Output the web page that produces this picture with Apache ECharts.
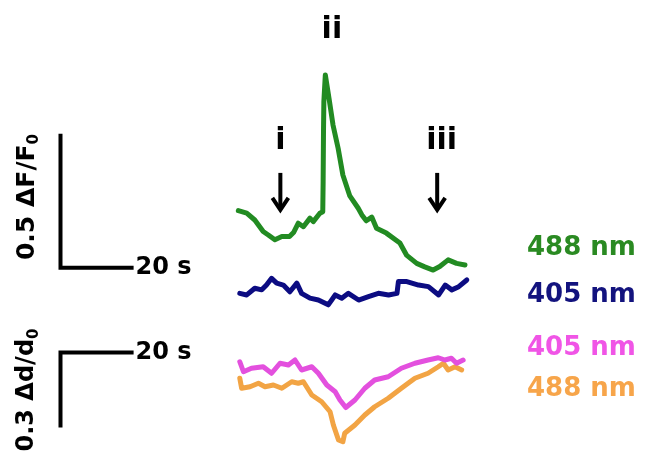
<!DOCTYPE html>
<html>
<head>
<meta charset="utf-8">
<script src="https://cdn.jsdelivr.net/npm/echarts@6/dist/echarts.min.js"></script>
<style>
  html, body { margin: 0; padding: 0; background: #fff; }
  #chart { width: 647px; height: 455px; }
</style>
</head>
<body>
<div id="chart"></div>
<script>
// ---- Fluorescence traces (ΔF/F0), time in seconds ----
const greenT = [0.2,2.5,4.7,7.0,8.4,10.2,12.1,14.2,15.3,16.6,18.0,19.8,20.7,22.5,23.3,23.4,23.5,23.6,24.0,25.0,26.1,27.5,28.8,30.7,33.0,34.0,35.2,36.7,38.0,40.7,44.4,46.2,49.0,51.2,53.5,55.3,57.6,59.9,62.2];
const greenV = [0.213,0.204,0.178,0.135,0.122,0.104,0.116,0.116,0.131,0.166,0.153,0.185,0.172,0.203,0.209,0.321,0.508,0.620,0.720,0.633,0.533,0.446,0.346,0.268,0.222,0.197,0.175,0.189,0.147,0.129,0.092,0.047,0.016,0.003,-0.009,0.004,0.029,0.016,0.010];

const blueT = [0.6,2.5,4.7,6.6,7.9,9.3,10.7,12.5,14.3,16.2,17.5,19.8,22.1,24.8,26.7,28.5,30.3,33.1,35.8,38.5,41.3,43.6,44.0,46.3,49.5,52.2,55.0,56.8,58.6,60.5,62.7];
const blueV = [0.004,-0.002,0.023,0.017,0.035,0.060,0.042,0.035,0.010,0.042,0.004,-0.014,-0.021,-0.039,-0.002,-0.014,0.004,-0.021,-0.008,0.004,-0.002,0.004,0.048,0.048,0.035,0.029,-0.002,0.035,0.017,0.029,0.054];

// ---- Ratio traces (Δd/d0) ----
const pinkT = [0.6,1.6,3.8,7.0,9.3,11.6,13.9,15.7,17.5,20.3,22.1,24.4,26.7,28.0,29.6,32.1,34.8,37.5,41.2,44.8,48.5,52.1,54.9,56.7,58.5,59.9,61.7];
const pinkV = [0.023,-0.017,-0.003,0.003,-0.023,0.017,0.010,0.030,-0.010,0.003,-0.023,-0.070,-0.097,-0.130,-0.160,-0.130,-0.083,-0.050,-0.037,-0.003,0.017,0.030,0.039,0.030,0.037,0.017,0.030];

const orangeT = [0.6,1.1,3.4,5.7,7.5,9.8,12.1,14.8,16.6,18.0,20.3,23.0,25.3,26.2,27.6,28.8,29.3,32.1,34.8,37.5,41.2,44.8,48.5,52.1,54.9,56.3,57.6,59.5,61.3];
const orangeV = [0.027,-0.013,-0.007,0.007,-0.007,0.000,-0.013,0.013,0.007,0.013,-0.040,-0.067,-0.107,-0.160,-0.220,-0.227,-0.193,-0.160,-0.120,-0.087,-0.053,-0.013,0.027,0.047,0.073,0.087,0.060,0.073,0.060];

// vertical stacking offsets for each trace
const GREEN_OFFSET = 0;
const BLUE_OFFSET = -0.1;
const PINK_OFFSET = -0.06;
const ORANGE_OFFSET = -0.13;

// scale bars
const scaleX0 = -48.45;
const scaleTime = 20;      // s
const scaleDF = 0.5;       // ΔF/F0
const scaleDd = 0.3;       // Δd/d0

// time points i, ii, iii and their label heights
const markNames = ['i', 'ii', 'iii'];
const markT = [11.7, 25.8, 55.8];
const markY = [0.473, 0.888, 0.473];
// arrows under i and iii
const arrowT = [11.7, 54.6];
const arrowSpan = [0.354, 0.216];

const FONT = 'DejaVu Sans';

function pairs(ts, vs, off) { return ts.map((t, i) => [t, +(vs[i] + off).toFixed(4)]); }

const chart = echarts.init(document.getElementById('chart'), null, { renderer: 'canvas' });

const traceStyle = (c) => ({ color: c, width: 5, join: 'round', cap: 'round' });
const barStyle = { color: '#000', width: 4, join: 'miter', cap: 'butt' };
const secLabel = { show: true, position: 'right', distance: 2, formatter: scaleTime + ' s',
                   color: '#000', fontFamily: FONT, fontWeight: 'bold', fontSize: 24 };

chart.setOption({
  animation: false,
  backgroundColor: '#ffffff',
  grid: [
    { left: 0, right: 0, top: 0, bottom: 0 },
    { left: 0, right: 0, top: 0, bottom: 0 }
  ],
  xAxis: [
    { type: 'value', gridIndex: 0, min: -65, max: 112, show: false },
    { type: 'value', gridIndex: 1, min: -65, max: 112, show: false }
  ],
  yAxis: [
    { type: 'value', gridIndex: 0, min: -0.7, max: 1.0, show: false },
    { type: 'value', gridIndex: 1, min: -0.41, max: 1.41, show: false }
  ],
  series: [
    { type: 'line', xAxisIndex: 0, yAxisIndex: 0, symbol: 'none', silent: true,
      data: pairs(greenT, greenV, GREEN_OFFSET), lineStyle: traceStyle('#228B22') },
    { type: 'line', xAxisIndex: 0, yAxisIndex: 0, symbol: 'none', silent: true,
      data: pairs(blueT, blueV, BLUE_OFFSET), lineStyle: traceStyle('#0C0C82') },
    { type: 'line', xAxisIndex: 1, yAxisIndex: 1, symbol: 'none', silent: true,
      data: pairs(orangeT, orangeV, ORANGE_OFFSET), lineStyle: traceStyle('#F2A444') },
    { type: 'line', xAxisIndex: 1, yAxisIndex: 1, symbol: 'none', silent: true,
      data: pairs(pinkT, pinkV, PINK_OFFSET), lineStyle: traceStyle('#E350DE') },

    // scale bar, fluorescence panel
    { type: 'line', xAxisIndex: 0, yAxisIndex: 0, symbol: 'none', silent: true, lineStyle: barStyle,
      data: [[scaleX0, scaleDF], [scaleX0, 0], [scaleX0 + scaleTime, 0]] },
    // scale bar, ratio panel
    { type: 'line', xAxisIndex: 1, yAxisIndex: 1, symbol: 'none', silent: true, lineStyle: barStyle,
      data: [[scaleX0 + scaleTime, 0], [scaleX0, 0], [scaleX0, -scaleDd]] },
    // "20 s" captions at the end of each time bar
    { type: 'scatter', xAxisIndex: 0, yAxisIndex: 0, symbolSize: 0, silent: true,
      itemStyle: { opacity: 1 }, label: secLabel, data: [[scaleX0 + scaleTime, 0]] },
    { type: 'scatter', xAxisIndex: 1, yAxisIndex: 1, symbolSize: 0, silent: true,
      itemStyle: { opacity: 1 }, label: secLabel, data: [[scaleX0 + scaleTime, 0]] },

    // arrows at time points i and iii
    { type: 'custom', xAxisIndex: 0, yAxisIndex: 0, silent: true,
      data: arrowT.map(t => [t, arrowSpan[0], arrowSpan[1]]),
      renderItem: function (params, api) {
        const a = api.coord([api.value(0), api.value(1)]);
        const b = api.coord([api.value(0), api.value(2)]);
        const st = { stroke: '#000', lineWidth: 4, fill: null };
        return {
          type: 'group',
          children: [
            { type: 'line', shape: { x1: a[0], y1: a[1], x2: b[0], y2: b[1] - 1 }, style: st },
            { type: 'polyline', shape: { points: [[b[0] - 8, b[1] - 12], [b[0], b[1]], [b[0] + 8, b[1] - 12]] },
              style: Object.assign({ lineJoin: 'miter' }, st) }
          ]
        };
      } },

    // labels i, ii, iii
    { type: 'scatter', xAxisIndex: 0, yAxisIndex: 0, symbolSize: 0, silent: true,
      itemStyle: { opacity: 1 },
      data: markNames.map((n, i) => ({ value: [markT[i], markY[i]], name: n })),
      label: { show: true, position: 'inside', formatter: p => p.name, opacity: 1,
               color: '#000', fontFamily: FONT, fontWeight: 'bold', fontSize: 30 } }
  ],
  graphic: [
    { type: 'text', x: 27, y: 197, rotation: Math.PI / 2,
      style: { text: '{a|0.5 ΔF/F}{s|0}', align: 'center', verticalAlign: 'middle',
               rich: { a: { fontFamily: FONT, fontWeight: 'bold', fontSize: 25, fill: '#000', lineHeight: 30 },
                       s: { fontFamily: FONT, fontWeight: 'bold', fontSize: 15, fill: '#000', verticalAlign: 'bottom', lineHeight: 30 } } } },
    { type: 'text', x: 27, y: 390, rotation: Math.PI / 2,
      style: { text: '{a|0.3 Δd/d}{s|0}', align: 'center', verticalAlign: 'middle',
               rich: { a: { fontFamily: FONT, fontWeight: 'bold', fontSize: 24, fill: '#000', lineHeight: 30 },
                       s: { fontFamily: FONT, fontWeight: 'bold', fontSize: 15, fill: '#000', verticalAlign: 'bottom', lineHeight: 30 } } } },
    { type: 'text', x: 527, y: 248, style: { text: '488 nm', fill: '#2A8A22', font: 'bold 26px "DejaVu Sans"', verticalAlign: 'middle' } },
    { type: 'text', x: 527, y: 295, style: { text: '405 nm', fill: '#13137E', font: 'bold 26px "DejaVu Sans"', verticalAlign: 'middle' } },
    { type: 'text', x: 527, y: 348, style: { text: '405 nm', fill: '#F055E6', font: 'bold 26px "DejaVu Sans"', verticalAlign: 'middle' } },
    { type: 'text', x: 527, y: 389, style: { text: '488 nm', fill: '#F7A54A', font: 'bold 26px "DejaVu Sans"', verticalAlign: 'middle' } }
  ]
});
</script>
</body>
</html>
